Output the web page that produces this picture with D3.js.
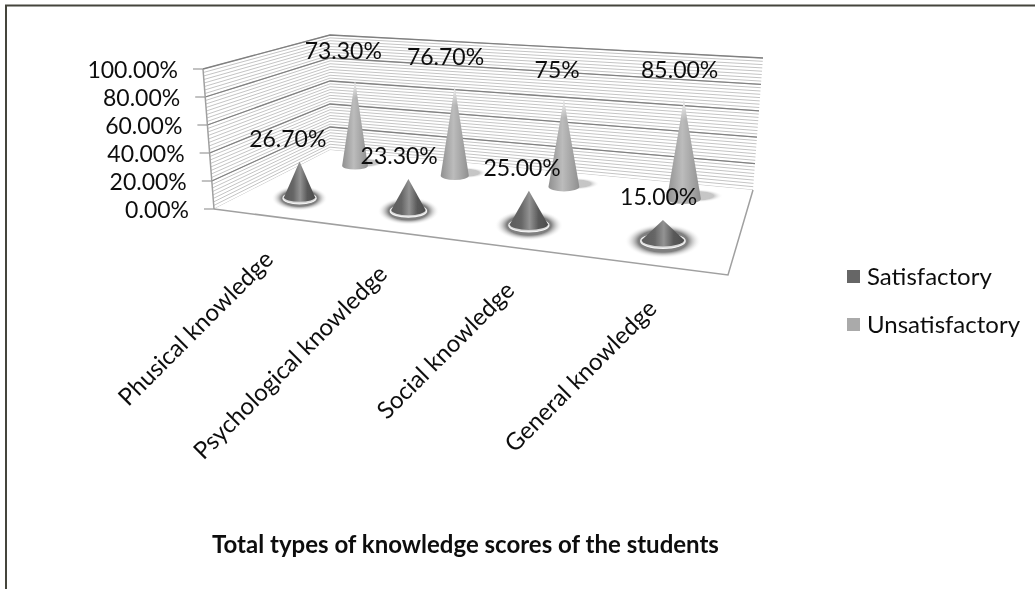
<!DOCTYPE html>
<html>
<head>
<meta charset="utf-8">
<script src="https://d3js.org/d3.v7.min.js"></script>
<style>
  body { margin: 0; background: #fff; }
  text { font-family: Lato, "Open Sans", sans-serif; fill: #111; }
</style>
</head>
<body>
<svg id="drawing_region" width="1035" height="589"></svg>
<script>
const categories = ['Phusical knowledge', 'Psychological knowledge', 'Social knowledge', 'General knowledge'];
const seriesNames = ['Satisfactory', 'Unsatisfactory'];
const satisfactory = [26.7, 23.3, 25, 15];
const unsatisfactory = [73.3, 76.7, 75, 85];
const satisfactoryLabels = ['26.70%', '23.30%', '25.00%', '15.00%'];
const unsatisfactoryLabels = ['73.30%', '76.70%', '75%', '85.00%'];
const yTicks = [0, 20, 40, 60, 80, 100];
const yTickLabels = ['0.00%', '20.00%', '40.00%', '60.00%', '80.00%', '100.00%'];
const title = 'Total types of knowledge scores of the students';

const svg = d3.select('#drawing_region');
const defs = svg.append('defs');

// floor corners in the picture, the 3d box is flat projected from these
const floor = { fl: [214, 209], fr: [728, 275], br: [753, 190], bl: [330, 150] };
const wallTop = { fl: [203, 69], bl: [330, 35], br: [763, 58] };

// square -> quad perspective map
function makeProjection(p0, p1, p2, p3) {
    const dx1 = p1[0] - p2[0], dx2 = p3[0] - p2[0], sx = p0[0] - p1[0] + p2[0] - p3[0];
    const dy1 = p1[1] - p2[1], dy2 = p3[1] - p2[1], sy = p0[1] - p1[1] + p2[1] - p3[1];
    const den = dx1 * dy2 - dx2 * dy1;
    const g = (sx * dy2 - dx2 * sy) / den, h = (dx1 * sy - sx * dy1) / den;
    const a = p1[0] - p0[0] + g * p1[0], b = p3[0] - p0[0] + h * p3[0];
    const d = p1[1] - p0[1] + g * p1[1], e = p3[1] - p0[1] + h * p3[1];
    return (u, v) => {
        const w = g * u + h * v + 1;
        return [(a * u + b * v + p0[0]) / w, (d * u + e * v + p0[1]) / w];
    };
}
const project = makeProjection(floor.fl, floor.fr, floor.br, floor.bl);

const xBand = d3.scaleBand().domain(categories).range([0, 1]);
const depth = d3.scalePoint().domain(seriesNames).range([0.26, 0.78]);
const pxPerPercent = d3.scaleLinear().domain([0, 1]).range([1.42, 1.09]);
const labelShift = d3.scaleLinear().domain([0, 1]).range([-13, -3]);

// value scales along the three upright edges of the walls
const edgeScale = (bottom, top) => d3.scaleLinear().domain([0, 100]).range([bottom, top]);
const edgeFront = edgeScale(floor.fl, wallTop.fl);
const edgeCorner = edgeScale(floor.bl, wallTop.bl);
const edgeRight = edgeScale(floor.br, wallTop.br);

const root = svg.append('g');
const soft = defs.append('filter').attr('id', 'soft');
soft.append('feGaussianBlur').attr('stdDeviation', 0.5);
const softText = defs.append('filter').attr('id', 'softText');
softText.append('feGaussianBlur').attr('stdDeviation', 0.3);

// chart frame, only top and left show in the picture
root.append('path')
    .attr('d', 'M6,589V5.5H1035')
    .attr('fill', 'none').attr('stroke', '#45453c').attr('stroke-width', 2);

const plot = root.append('g').attr('filter', 'url(#soft)');

// walls
const minorTicks = d3.range(0, 100.01, 2.5);
const wallLine = (v, major) => {
    const c = edgeCorner(v);
    plot.append('polyline')
        .attr('points', [edgeFront(v), c, edgeRight(v)].map(p => p.join(',')).join(' '))
        .attr('fill', 'none')
        .attr('stroke', major ? '#808080' : '#c4c4c4')
        .attr('stroke-width', major ? 1.3 : 1);
};
minorTicks.forEach(v => wallLine(v, false));
yTicks.slice(1).forEach(v => wallLine(v, true));

// floor
plot.append('polygon')
    .attr('points', [floor.fl, floor.fr, floor.br, floor.bl].map(p => p.join(',')).join(' '))
    .attr('fill', '#fff');
plot.append('polyline')
    .attr('points', [floor.fl, floor.fr, floor.br].map(p => p.join(',')).join(' '))
    .attr('fill', 'none').attr('stroke', '#a0a0a0').attr('stroke-width', 1.5);

// y axis
plot.append('line')
    .attr('x1', floor.fl[0]).attr('y1', floor.fl[1])
    .attr('x2', wallTop.fl[0]).attr('y2', wallTop.fl[1])
    .attr('stroke', '#a0a0a0').attr('stroke-width', 1.5);
yTicks.forEach(t => {
    const p = edgeFront(t);
    plot.append('line')
        .attr('x1', p[0] - 10).attr('y1', p[1])
        .attr('x2', p[0]).attr('y2', p[1])
        .attr('stroke', '#999').attr('stroke-width', 1.2);
});

const labels = root.append('g').attr('filter', 'url(#softText)');
yTicks.forEach((t, i) => {
    const p = edgeFront(t);
    labels.append('text')
        .attr('x', p[0] - 25).attr('y', p[1] + 9)
        .attr('text-anchor', 'end').attr('font-size', 23)
        .text(yTickLabels[i]);
});

// gradients for the cones
const addGradient = (id, stops) => {
    const g = defs.append('linearGradient').attr('id', id);
    stops.forEach(s => g.append('stop').attr('offset', s[0]).attr('stop-color', s[1]));
};
addGradient('coneDark', [[0, '#5c5c5c'], [0.3, '#666'], [0.52, '#939393'], [0.75, '#5a5a5a'], [1, '#4c4c4c']]);
addGradient('coneLight', [[0, '#909090'], [0.45, '#bcbcbc'], [0.8, '#a0a0a0'], [1, '#8e8e8e']]);
const tipFade = defs.append('linearGradient').attr('id', 'tipFade')
    .attr('x1', 0).attr('y1', 0).attr('x2', 0).attr('y2', 1);
tipFade.append('stop').attr('offset', 0).attr('stop-color', '#fff').attr('stop-opacity', 0.85);
tipFade.append('stop').attr('offset', 0.2).attr('stop-color', '#fff').attr('stop-opacity', 0);
const halo = defs.append('radialGradient').attr('id', 'halo');
halo.append('stop').attr('offset', 0.65).attr('stop-color', '#808080');
halo.append('stop').attr('offset', 1).attr('stop-color', '#fff').attr('stop-opacity', 0);

function coneTable() {
    const rows = [];
    categories.forEach((c, i) => {
        rows.push({ c, s: seriesNames[1], value: unsatisfactory[i], label: unsatisfactoryLabels[i] });
    });
    categories.forEach((c, i) => {
        rows.push({ c, s: seriesNames[0], value: satisfactory[i], label: satisfactoryLabels[i] });
    });
    return rows;
}

const cones = plot.selectAll('g.cone').data(coneTable()).join('g').attr('class', 'cone');
cones.each(function (d) {
    const g = d3.select(this);
    const dark = d.s === seriesNames[0];
    const u = xBand(d.c) + xBand.bandwidth() / 2;
    const v = depth(d.s);
    const base = project(u, v);
    const left = project(u - 0.5 * xBand.bandwidth(), v);
    const right = project(u + 0.5 * xBand.bandwidth(), v);
    const rx = (right[0] - left[0]) * (dark ? 0.15 : 0.135);
    const ry = rx * 0.3;
    const apexY = base[1] - d.value * pxPerPercent(v);
    const conePath = `M${base[0]},${apexY}L${base[0] - rx},${base[1]}A${rx},${ry} 0 0 0 ${base[0] + rx},${base[1]}Z`;

    if (dark) {
        g.append('ellipse')
            .attr('cx', base[0]).attr('cy', base[1] + 1)
            .attr('rx', rx * 1.8).attr('ry', ry * 2.7)
            .attr('fill', 'url(#halo)');
        g.append('ellipse')
            .attr('cx', base[0]).attr('cy', base[1] + 1)
            .attr('rx', rx + 1).attr('ry', ry + 1)
            .attr('fill', '#d8d8d8').attr('stroke', '#f4f4f4').attr('stroke-width', 1.2);
    } else {
        g.append('ellipse')
            .attr('cx', base[0] + rx * 0.7).attr('cy', base[1] - 3)
            .attr('rx', rx * 1.6).attr('ry', ry * 1.3)
            .attr('fill', 'url(#halo)').attr('opacity', 0.45);
    }
    g.append('path').attr('d', conePath)
        .attr('fill', `url(#${dark ? 'coneDark' : 'coneLight'})`);
    if (!dark) g.append('path').attr('d', conePath).attr('fill', 'url(#tipFade)');
});

// data labels
labels.selectAll('text.value').data(coneTable()).join('text')
    .attr('class', 'value')
    .attr('text-anchor', 'middle')
    .attr('font-size', 23)
    .attr('x', d => {
        const u = xBand(d.c) + xBand.bandwidth() / 2;
        return project(u, depth(d.s))[0] + labelShift(u);
    })
    .attr('y', d => {
        const v = depth(d.s);
        const lift = d.s === seriesNames[0] ? 15 : 22;
        return project(xBand(d.c) + xBand.bandwidth() / 2, v)[1] - d.value * pxPerPercent(v) - lift;
    })
    .text(d => d.label);

// category labels, rotated, hung off the front edge of the floor
labels.selectAll('text.cat').data(categories).join('text')
    .attr('class', 'cat')
    .attr('text-anchor', 'end')
    .attr('font-size', 24)
    .attr('transform', d => {
        const p = project(xBand(d) + xBand.bandwidth() / 2, 0);
        return `translate(${p[0] + 8},${p[1] + 45}) rotate(-45)`;
    })
    .text(d => d);

// legend
const legendColor = d3.scaleOrdinal().domain(seriesNames).range(['#666', '#aaa']);
const legendY = d3.scalePoint().domain(seriesNames).range([285, 333]);
seriesNames.forEach(s => {
    root.append('rect')
        .attr('x', 847).attr('y', legendY(s) - 15)
        .attr('width', 13).attr('height', 13)
        .attr('fill', legendColor(s));
    labels.append('text')
        .attr('x', 867).attr('y', legendY(s))
        .attr('font-size', 24)
        .text(s);
});

labels.append('text')
    .attr('x', 212).attr('y', 553)
    .attr('font-size', 24).attr('font-weight', 700)
    .text(title);
</script>
</body>
</html>
